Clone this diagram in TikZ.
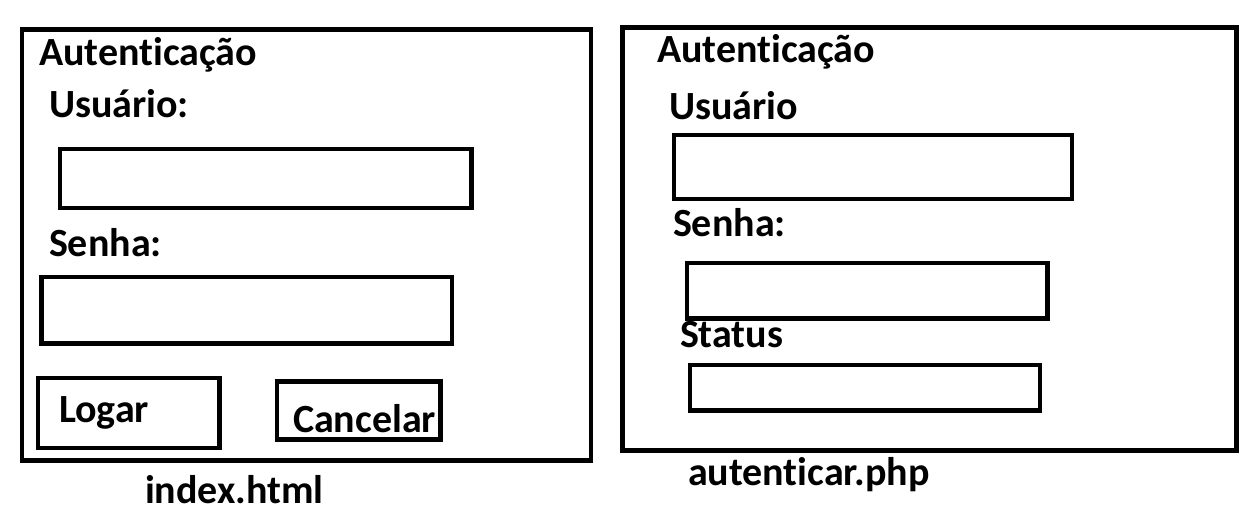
\documentclass[tikz,border=0pt]{standalone}
\usepackage{fontspec}
\setmainfont{Carlito}[Ligatures=CommonOff]
\begin{document}
\begin{tikzpicture}[x=1pt,y=-1pt,
  frame/.style={draw=black,line width=4.6pt,rectangle,inner sep=0pt,outer sep=0pt,anchor=north west},
  lbl/.style={inner sep=0pt,outer sep=0pt,anchor=base west,text depth=0pt,font=\fontsize{40}{42}\selectfont\bfseries}]
\useasboundingbox[fill=white] (0,0) rectangle (1245,510);
% left panel
\node[frame,minimum width=569pt,minimum height=431pt] (lpanel) at (22,29.5) {};
\node[lbl] (ltitle) at (39,66) {Autenticação};
\node[lbl] (luser) at (49,118) {Usuário:};
\node[frame,minimum width=411.5pt,minimum height=59pt] (luserbox) at (60,149) {};
\node[lbl] (lpass) at (49,257) {Senha:};
\node[frame,minimum width=410.5pt,minimum height=66.5pt] (lpassbox) at (41.5,277) {};
\node[frame,minimum width=181.5pt,minimum height=70pt] (logarbtn) at (38,378) {};
\node[lbl] (logar) at (59,423) {Logar};
\node[frame,minimum width=163.3pt,minimum height=58pt] (cancelbtn) at (277,381.7) {};
\node[lbl] (cancel) at (293,432) {Cancelar};
\node[lbl] (lfile) at (145,503) {index.html};
% right panel
\node[frame,minimum width=614pt,minimum height=423pt] (rpanel) at (622.5,27.5) {};
\node[lbl] (rtitle) at (657,62.5) {Autenticação};
\node[lbl] (ruser) at (669,120) {Usuário};
\node[frame,minimum width=398pt,minimum height=64pt] (ruserbox) at (674,135) {};
\node[lbl] (rpass) at (673,237) {Senha:};
\node[frame,minimum width=360.5pt,minimum height=55.5pt] (rpassbox) at (687,263) {};
\node[lbl] (rstatus) at (680,348) {Status};
\node[frame,minimum width=350pt,minimum height=45.5pt] (rstatusbox) at (690,365) {};
\node[lbl] (rfile) at (688,485) {autenticar.php};
\end{tikzpicture}
\end{document}
